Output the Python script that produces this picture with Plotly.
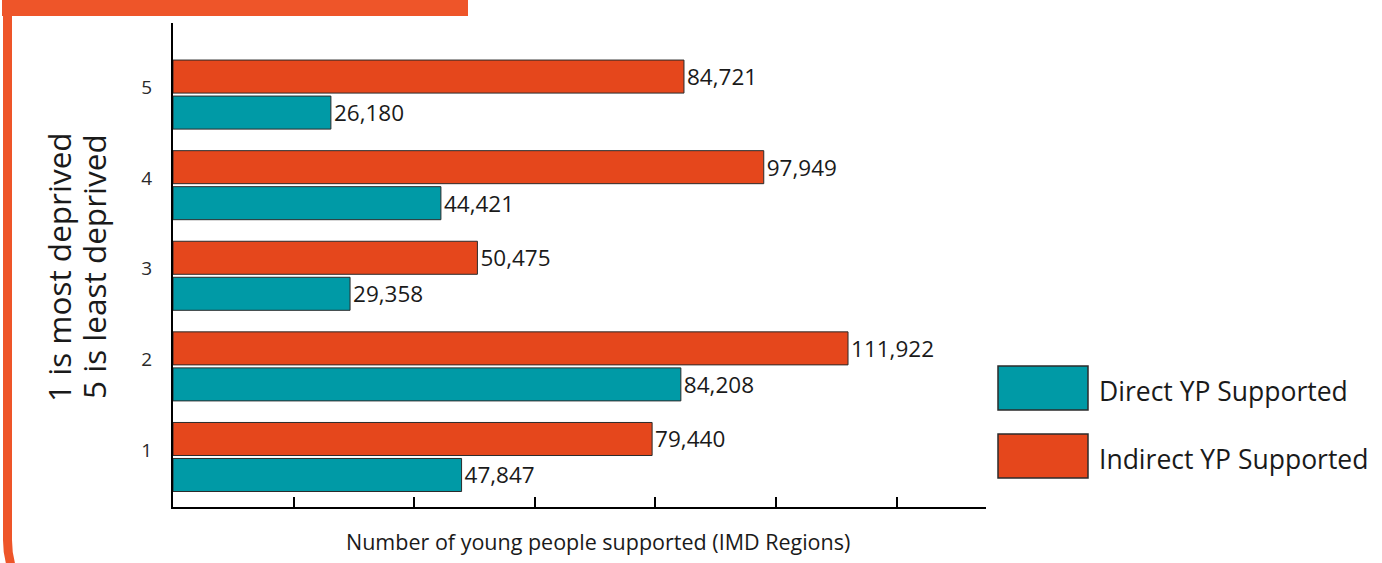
import plotly.graph_objects as go

# ---- data ----
categories = [1, 2, 3, 4, 5]
category_labels = ["1", "2", "3", "4", "5"]
direct_values = [47847, 84208, 29358, 44421, 26180]
indirect_values = [79440, 111922, 50475, 97949, 84721]
series_names = ["Direct YP Supported", "Indirect YP Supported"]
x_title = "Number of young people supported (IMD Regions)"
y_title_lines = ["1 is most deprived", "5 is least deprived"]

# ---- style ----
TEAL = "#009AA6"
ORANGE = "#E5471C"
FRAME = "#EE5529"
EDGE = "#2b2b2b"
TEXT = "#1a1a1a"
FONT = "Open Sans"

FIG_W, FIG_H = 1382, 563
L, R, T, B = 173, 396, 23, 56
W = FIG_W - L - R
H = FIG_H - T - B


def px(x):
    return (x - L) / W


def py(y):
    return 1 - (y - T) / H


fig = go.Figure()
for name, vals, col in [(series_names[0], direct_values, TEAL),
                        (series_names[1], indirect_values, ORANGE)]:
    fig.add_trace(go.Bar(
        y=categories, x=vals, orientation="h", name=name,
        marker=dict(color=col, line=dict(color=EDGE, width=1)),
        text=[f"{v:,}" for v in vals], textposition="outside",
        textfont=dict(size=22.5, color=TEXT, family=FONT),
        cliponaxis=False, showlegend=False,
    ))

shapes = []
annotations = []

# legend boxes + labels
for i, (name, col) in enumerate([(series_names[0], TEAL), (series_names[1], ORANGE)]):
    y0 = 366 + i * 68
    shapes.append(dict(type="rect", xref="paper", yref="paper",
                       x0=px(998), x1=px(1088), y0=py(y0), y1=py(y0 + 44),
                       fillcolor=col, line=dict(color=EDGE, width=1.5)))
    annotations.append(dict(text=name, xref="paper", yref="paper",
                            x=px(1097), y=py(y0 + 25), xanchor="left", yanchor="middle",
                            showarrow=False, font=dict(size=26.5, color=TEXT, family=FONT)))

# frame decoration
shapes.append(dict(type="rect", xref="paper", yref="paper",
                   x0=px(2), x1=px(468), y0=py(0), y1=py(16),
                   fillcolor=FRAME, line=dict(width=0), layer="above"))
k = 0.5523
Rr = 90
xs = 7.5
ys = 540
path = (f"M {px(xs)},{py(12)} L {px(xs)},{py(ys)} "
        f"C {px(xs)},{py(ys + k * Rr)} {px(xs + Rr - k * Rr)},{py(ys + Rr)} {px(xs + Rr)},{py(ys + Rr)} "
        f"L {px(1300)},{py(ys + Rr)}")
shapes.append(dict(type="path", xref="paper", yref="paper", path=path,
                   line=dict(color=FRAME, width=9), layer="above"))

# axis titles
annotations.append(dict(text=x_title, xref="paper", yref="paper",
                        x=px(598), y=py(541), xanchor="center", yanchor="middle",
                        showarrow=False, font=dict(size=21.5, color=TEXT, family=FONT)))
for j, line in enumerate(y_title_lines):
    annotations.append(dict(text=line, xref="paper", yref="paper",
                            x=px(58 + j * 35), y=py(267), xanchor="center", yanchor="middle",
                            textangle=-90, showarrow=False,
                            font=dict(size=31.5, color=TEXT, family=FONT)))

fig.update_layout(
    width=FIG_W, height=FIG_H,
    margin=dict(l=L, r=R, t=T, b=B),
    paper_bgcolor="white", plot_bgcolor="white",
    barmode="group", bargap=0.205, bargroupgap=0.083,
    shapes=shapes, annotations=annotations,
    font=dict(family=FONT, color=TEXT),
    xaxis=dict(range=[0, 134800], dtick=20000, tick0=0, showticklabels=False,
               ticks="inside", ticklen=10, tickwidth=2, tickcolor="black",
               showline=True, linecolor="black", linewidth=2,
               showgrid=False, zeroline=False, fixedrange=True),
    yaxis=dict(range=[0.448, 5.79], tickvals=categories, ticktext=category_labels,
               tickfont=dict(size=19, color="#2a2a2a", family=FONT),
               ticks="", ticklabelstandoff=15, ticklabelshift=-7,
               showline=True, linecolor="black", linewidth=2,
               showgrid=False, zeroline=False, fixedrange=True),
)

fig.write_html("out.html")
